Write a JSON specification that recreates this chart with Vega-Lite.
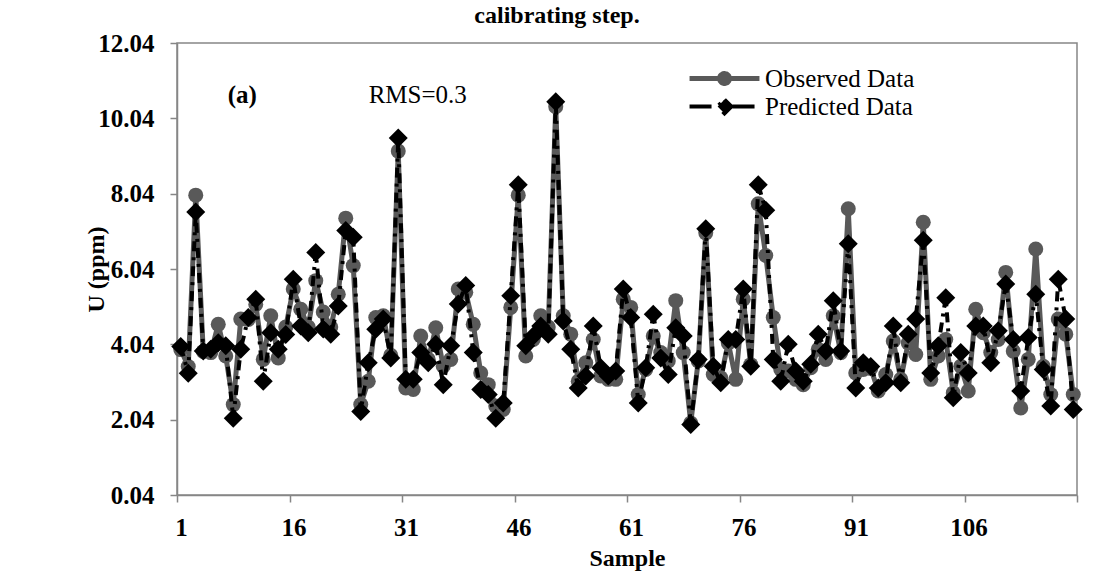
{
  "$schema": "https://vega.github.io/schema/vega-lite/v6.json",
  "width": 900,
  "height": 452,
  "autosize": {"type": "none"},
  "padding": {"left": 177, "top": 43, "right": 33, "bottom": 77},
  "background": "#ffffff",
  "title": {"text": "calibrating step.", "font": "Liberation Serif", "fontSize": 24, "fontWeight": "bold", "color": "#000000", "anchor": "middle", "frame": "group", "dx": -70, "offset": 0, "dy": 16, "baseline": "alphabetic"},
  "config": {
    "view": {"stroke": "#868686", "strokeWidth": 1.5},
    "axis": {"grid": false, "domainColor": "#868686", "domainWidth": 1.5, "tickColor": "#868686", "tickWidth": 1.5, "tickSize": 7, "labelFont": "Liberation Serif", "labelFontWeight": "bold", "labelFontSize": 25, "labelColor": "#000000", "titleFont": "Liberation Serif", "titleFontWeight": "bold", "titleFontSize": 24, "titleColor": "#000000", "labelOverlap": false, "labelFlush": false, "labelBound": false}
  },
  "data": {"values": [
    {"n":1,"Observed Data":3.9,"Predicted Data":3.98},
    {"n":2,"Observed Data":3.45,"Predicted Data":3.27},
    {"n":3,"Observed Data":8.0,"Predicted Data":7.55},
    {"n":4,"Observed Data":3.85,"Predicted Data":3.86},
    {"n":5,"Observed Data":3.82,"Predicted Data":3.91},
    {"n":6,"Observed Data":4.57,"Predicted Data":4.08},
    {"n":7,"Observed Data":3.73,"Predicted Data":4.0},
    {"n":8,"Observed Data":2.44,"Predicted Data":2.08},
    {"n":9,"Observed Data":4.71,"Predicted Data":3.91},
    {"n":10,"Observed Data":4.7,"Predicted Data":4.75},
    {"n":11,"Observed Data":5.1,"Predicted Data":5.24},
    {"n":12,"Observed Data":3.64,"Predicted Data":3.06},
    {"n":13,"Observed Data":4.8,"Predicted Data":4.35},
    {"n":14,"Observed Data":3.68,"Predicted Data":3.91},
    {"n":15,"Observed Data":4.5,"Predicted Data":4.3},
    {"n":16,"Observed Data":5.51,"Predicted Data":5.77},
    {"n":17,"Observed Data":4.97,"Predicted Data":4.53},
    {"n":18,"Observed Data":4.5,"Predicted Data":4.35},
    {"n":19,"Observed Data":5.73,"Predicted Data":6.48},
    {"n":20,"Observed Data":4.9,"Predicted Data":4.45},
    {"n":21,"Observed Data":4.5,"Predicted Data":4.31},
    {"n":22,"Observed Data":5.37,"Predicted Data":5.06},
    {"n":23,"Observed Data":7.39,"Predicted Data":7.06},
    {"n":24,"Observed Data":6.13,"Predicted Data":6.88},
    {"n":25,"Observed Data":2.44,"Predicted Data":2.26},
    {"n":26,"Observed Data":3.06,"Predicted Data":3.55},
    {"n":27,"Observed Data":4.75,"Predicted Data":4.44},
    {"n":28,"Observed Data":4.8,"Predicted Data":4.71},
    {"n":29,"Observed Data":3.75,"Predicted Data":3.68},
    {"n":30,"Observed Data":9.17,"Predicted Data":9.52},
    {"n":31,"Observed Data":2.88,"Predicted Data":3.11},
    {"n":32,"Observed Data":2.84,"Predicted Data":3.11},
    {"n":33,"Observed Data":4.26,"Predicted Data":3.82},
    {"n":34,"Observed Data":3.64,"Predicted Data":3.55},
    {"n":35,"Observed Data":4.48,"Predicted Data":4.04},
    {"n":36,"Observed Data":3.46,"Predicted Data":2.97},
    {"n":37,"Observed Data":3.64,"Predicted Data":4.0},
    {"n":38,"Observed Data":5.51,"Predicted Data":5.11},
    {"n":39,"Observed Data":5.42,"Predicted Data":5.6},
    {"n":40,"Observed Data":4.57,"Predicted Data":3.82},
    {"n":41,"Observed Data":3.28,"Predicted Data":2.84},
    {"n":42,"Observed Data":2.97,"Predicted Data":2.71},
    {"n":43,"Observed Data":2.4,"Predicted Data":2.08},
    {"n":44,"Observed Data":2.31,"Predicted Data":2.48},
    {"n":45,"Observed Data":5.02,"Predicted Data":5.33},
    {"n":46,"Observed Data":8.0,"Predicted Data":8.28},
    {"n":47,"Observed Data":3.73,"Predicted Data":4.0},
    {"n":48,"Observed Data":4.17,"Predicted Data":4.26},
    {"n":49,"Observed Data":4.8,"Predicted Data":4.53},
    {"n":50,"Observed Data":4.5,"Predicted Data":4.31},
    {"n":51,"Observed Data":10.35,"Predicted Data":10.48},
    {"n":52,"Observed Data":4.8,"Predicted Data":4.66},
    {"n":53,"Observed Data":4.31,"Predicted Data":3.91},
    {"n":54,"Observed Data":3.06,"Predicted Data":2.88},
    {"n":55,"Observed Data":3.55,"Predicted Data":3.2},
    {"n":56,"Observed Data":4.17,"Predicted Data":4.53},
    {"n":57,"Observed Data":3.2,"Predicted Data":3.42},
    {"n":58,"Observed Data":3.11,"Predicted Data":3.2},
    {"n":59,"Observed Data":3.11,"Predicted Data":3.33},
    {"n":60,"Observed Data":5.24,"Predicted Data":5.51},
    {"n":61,"Observed Data":5.02,"Predicted Data":4.75},
    {"n":62,"Observed Data":2.71,"Predicted Data":2.48},
    {"n":63,"Observed Data":3.37,"Predicted Data":3.42},
    {"n":64,"Observed Data":4.26,"Predicted Data":4.84},
    {"n":65,"Observed Data":3.82,"Predicted Data":3.68},
    {"n":66,"Observed Data":3.6,"Predicted Data":3.24},
    {"n":67,"Observed Data":5.2,"Predicted Data":4.48},
    {"n":68,"Observed Data":3.82,"Predicted Data":4.26},
    {"n":69,"Observed Data":1.95,"Predicted Data":1.91},
    {"n":70,"Observed Data":3.6,"Predicted Data":3.64},
    {"n":71,"Observed Data":7.0,"Predicted Data":7.11},
    {"n":72,"Observed Data":3.24,"Predicted Data":3.46},
    {"n":73,"Observed Data":3.15,"Predicted Data":3.02},
    {"n":74,"Observed Data":4.08,"Predicted Data":4.17},
    {"n":75,"Observed Data":3.11,"Predicted Data":4.17},
    {"n":76,"Observed Data":5.24,"Predicted Data":5.51},
    {"n":77,"Observed Data":3.5,"Predicted Data":3.46},
    {"n":78,"Observed Data":7.77,"Predicted Data":8.28},
    {"n":79,"Observed Data":6.4,"Predicted Data":7.6},
    {"n":80,"Observed Data":4.75,"Predicted Data":3.64},
    {"n":81,"Observed Data":3.37,"Predicted Data":3.06},
    {"n":82,"Observed Data":3.33,"Predicted Data":4.04},
    {"n":83,"Observed Data":3.11,"Predicted Data":3.33},
    {"n":84,"Observed Data":2.97,"Predicted Data":3.06},
    {"n":85,"Observed Data":3.42,"Predicted Data":3.51},
    {"n":86,"Observed Data":3.91,"Predicted Data":4.31},
    {"n":87,"Observed Data":3.64,"Predicted Data":3.86},
    {"n":88,"Observed Data":4.8,"Predicted Data":5.2},
    {"n":89,"Observed Data":3.82,"Predicted Data":3.86},
    {"n":90,"Observed Data":7.64,"Predicted Data":6.71},
    {"n":91,"Observed Data":3.28,"Predicted Data":2.88},
    {"n":92,"Observed Data":3.37,"Predicted Data":3.55},
    {"n":93,"Observed Data":3.4,"Predicted Data":3.45},
    {"n":94,"Observed Data":2.8,"Predicted Data":2.88},
    {"n":95,"Observed Data":3.24,"Predicted Data":3.02},
    {"n":96,"Observed Data":4.13,"Predicted Data":4.53},
    {"n":97,"Observed Data":3.11,"Predicted Data":3.02},
    {"n":98,"Observed Data":4.08,"Predicted Data":4.31},
    {"n":99,"Observed Data":3.77,"Predicted Data":4.71},
    {"n":100,"Observed Data":7.28,"Predicted Data":6.8},
    {"n":101,"Observed Data":3.11,"Predicted Data":3.28},
    {"n":102,"Observed Data":3.73,"Predicted Data":4.0},
    {"n":103,"Observed Data":4.17,"Predicted Data":5.28},
    {"n":104,"Observed Data":2.75,"Predicted Data":2.62},
    {"n":105,"Observed Data":3.46,"Predicted Data":3.82},
    {"n":106,"Observed Data":2.8,"Predicted Data":3.28},
    {"n":107,"Observed Data":4.97,"Predicted Data":4.53},
    {"n":108,"Observed Data":4.35,"Predicted Data":4.53},
    {"n":109,"Observed Data":3.82,"Predicted Data":3.55},
    {"n":110,"Observed Data":4.17,"Predicted Data":4.4},
    {"n":111,"Observed Data":5.95,"Predicted Data":5.64},
    {"n":112,"Observed Data":3.86,"Predicted Data":4.17},
    {"n":113,"Observed Data":2.35,"Predicted Data":2.8},
    {"n":114,"Observed Data":3.64,"Predicted Data":4.22},
    {"n":115,"Observed Data":6.57,"Predicted Data":5.37},
    {"n":116,"Observed Data":3.46,"Predicted Data":3.37},
    {"n":117,"Observed Data":2.71,"Predicted Data":2.4},
    {"n":118,"Observed Data":4.71,"Predicted Data":5.77},
    {"n":119,"Observed Data":4.31,"Predicted Data":4.71},
    {"n":120,"Observed Data":2.71,"Predicted Data":2.31}
  ]},
  "transform": [{"fold": ["Observed Data", "Predicted Data"], "as": ["series", "U"]}],
  "encoding": {
    "x": {"field": "n", "type": "quantitative",
      "scale": {"domain": [0.5, 120.5], "nice": false, "zero": false},
      "axis": {"values": [0.5, 15.5, 30.5, 45.5, 60.5, 75.5, 90.5, 105.5, 120.5],
        "labelExpr": "datum.value < 120 ? format(datum.value + 0.5, 'd') : ''",
        "labelOffset": 4, "labelPadding": 13, "title": "Sample", "titleY": 70, "titleBaseline": "alphabetic", "titleX": 450, "titleAnchor": "middle"}},
    "y": {"field": "U", "type": "quantitative",
      "scale": {"domain": [0.04, 12.04], "nice": false, "zero": false},
      "axis": {"values": [0.04, 2.04, 4.04, 6.04, 8.04, 10.04, 12.04], "format": ".2f", "labelPadding": 16,
        "title": "U (ppm)", "titleX": -81, "titleY": 226, "titleAngle": -90, "titleBaseline": "middle", "titleAlign": "center"}}
  },
  "layer": [
    {
      "transform": [{"filter": "datum.series === 'Observed Data'"}],
      "mark": {"type": "line", "strokeWidth": 5},
      "encoding": {
        "color": {"field": "series", "type": "nominal",
          "scale": {"domain": ["Observed Data", "Predicted Data"], "range": ["#595959", "#000000"]},
          "legend": {
            "orient": "none", "legendX": 535, "legendY": 23, "title": null, "padding": 0, "rowPadding": -4.5,
            "labelFont": "Liberation Serif", "labelFontSize": 25, "labelColor": "#000000", "labelOffset": 28, "labelLimit": 300,
            "symbolSize": 529,
            "encode": {"symbols": {"update": {
              "shape": {"signal": "datum.value === 'Observed Data' ? 'M-3.04,0H3.04M-0.43,0A0.43,0.43 0 1,0 0.43,0A0.43,0.43 0 1,0 -0.43,0Z' : 'M-3.04,0H3.04M0,-0.6L0.6,0L0,0.6L-0.6,0Z'"},
              "fill": {"signal": "datum.value === 'Observed Data' ? '#595959' : '#000000'"},
              "stroke": {"signal": "datum.value === 'Observed Data' ? '#595959' : '#000000'"},
              "strokeWidth": {"signal": "datum.value === 'Observed Data' ? 5 : 4"},
              "strokeDash": {"signal": "datum.value === 'Observed Data' ? [1, 0] : [22, 9, 3, 9]"},
              "opacity": {"value": 1},
              "fillOpacity": {"value": 1},
              "strokeOpacity": {"value": 1},
              "size": {"value": 529}
            }}}
          }}
      }
    },
    {
      "transform": [{"filter": "datum.series === 'Observed Data'"}],
      "mark": {"type": "point", "filled": true, "shape": "circle", "size": 225, "opacity": 1},
      "encoding": {"color": {"field": "series", "type": "nominal"}}
    },
    {
      "transform": [{"filter": "datum.series === 'Predicted Data'"}],
      "mark": {"type": "line", "strokeWidth": 4, "strokeDash": [10, 6, 3, 6]},
      "encoding": {"color": {"field": "series", "type": "nominal"}}
    },
    {
      "transform": [{"filter": "datum.series === 'Predicted Data'"}],
      "mark": {"type": "point", "filled": true, "shape": "diamond", "size": 361, "opacity": 1},
      "encoding": {"color": {"field": "series", "type": "nominal"}}
    },
    {
      "data": {"values": [{"label": "(a)", "xn": 9.2, "yv": 10.66}]},
      "transform": [],
      "mark": {"type": "text", "font": "Liberation Serif", "fontSize": 25, "fontWeight": "bold", "color": "#000000", "align": "center", "baseline": "middle"},
      "encoding": {"x": {"field": "xn", "type": "quantitative"}, "y": {"field": "yv", "type": "quantitative"}, "text": {"field": "label"}}
    },
    {
      "data": {"values": [{"label": "RMS=0.3", "xn": 32.6, "yv": 10.66}]},
      "transform": [],
      "mark": {"type": "text", "font": "Liberation Serif", "fontSize": 25, "fontWeight": "normal", "color": "#000000", "align": "center", "baseline": "middle"},
      "encoding": {"x": {"field": "xn", "type": "quantitative"}, "y": {"field": "yv", "type": "quantitative"}, "text": {"field": "label"}}
    }
  ]
}
